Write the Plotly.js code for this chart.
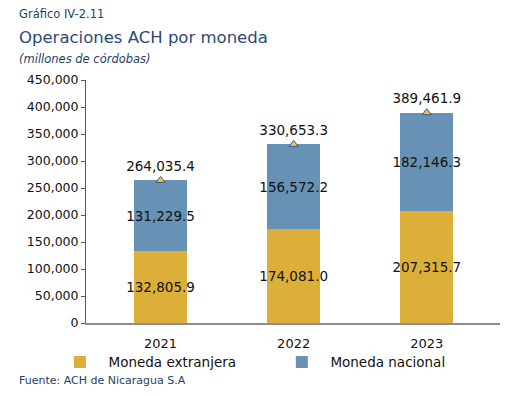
<!DOCTYPE html>
<html><head><meta charset="utf-8">
<script src="https://cdn.plot.ly/plotly-3.0.1.min.js"></script>
<style>body{margin:0;background:#fff}#c{width:512px;height:396px}</style>
</head><body><div id="c"></div>
<script>
const years = ['2021', '2022', '2023'];
const extranjera = [132805.9, 174081.0, 207315.7];
const nacional = [131229.5, 156572.2, 182146.3];
const total = [264035.4, 330653.3, 389461.9];
const yTicks = [0, 50000, 100000, 150000, 200000, 250000, 300000, 350000, 400000, 450000];

const fmt = v => v.toLocaleString('en-US', {minimumFractionDigits: 1, maximumFractionDigits: 1});
const lblFont = {family: 'DejaVu Sans', size: 13.5, color: '#111'};
const hdr = '#243F66';
const legFont = {family: 'DejaVu Sans', size: 13.5, color: '#111'};
const pad = '\u00a0\u00a0';

const traces = [
  {type: 'bar', name: pad + 'Moneda extranjera', x: years, y: extranjera, legend: 'legend',
   marker: {color: '#DCAF38'}, text: extranjera.map(fmt), textposition: 'inside',
   insidetextanchor: 'middle', textangle: 0, constraintext: 'none', textfont: lblFont,
   hoverinfo: 'skip'},
  {type: 'bar', name: pad + 'Moneda nacional', x: years, y: nacional, legend: 'legend2',
   marker: {color: '#6892B5'}, text: nacional.map(fmt), textposition: 'inside',
   insidetextanchor: 'middle', textangle: 0, constraintext: 'none', textfont: lblFont,
   hoverinfo: 'skip'},
  {type: 'scatter', mode: 'markers+text', x: years, y: total, showlegend: false,
   marker: {symbol: 'triangle-up', size: 8, color: '#E8C155', line: {color: '#3C5A7A', width: 1}},
   text: total.map(fmt), textposition: 'top center', textfont: lblFont, cliponaxis: false}
];

const layout = {
  width: 512, height: 396,
  margin: {l: 86, r: 12, t: 80, b: 73},
  paper_bgcolor: '#fff', plot_bgcolor: '#fff',
  barmode: 'stack', bargap: 0.6,
  showlegend: true,
  xaxis: {type: 'category', range: [-0.56, 2.55], showline: true, linecolor: '#8c8c8c', linewidth: 1.5,
    ticks: '', showgrid: false, zeroline: false, ticklabelstandoff: 8,
    tickfont: {family: 'DejaVu Sans', size: 13, color: '#111'}},
  yaxis: {range: [0, 450000], tickvals: yTicks, ticktext: yTicks.map(v => v.toLocaleString('en-US')),
    showline: true, linecolor: '#555', linewidth: 1, ticks: 'outside', ticklen: 4, tickcolor: '#555',
    showgrid: false, zeroline: false,
    tickfont: {family: 'DejaVu Sans', size: 12.5, color: '#111'}},
  legend: {orientation: 'h', x: -0.063, y: -0.098, xanchor: 'left', yanchor: 'top',
    font: legFont, itemwidth: 30, bgcolor: 'rgba(0,0,0,0)'},
  legend2: {orientation: 'h', x: 0.473, y: -0.098, xanchor: 'left', yanchor: 'top',
    font: legFont, itemwidth: 30, bgcolor: 'rgba(0,0,0,0)'},
  annotations: [
    {xref: 'paper', yref: 'paper', x: -0.167, y: 1.272, xanchor: 'left', yanchor: 'middle', showarrow: false,
     text: 'Gráfico IV-2.11', font: {family: 'DejaVu Sans', size: 11.5, color: hdr}},
    {xref: 'paper', yref: 'paper', x: -0.167, y: 1.174, xanchor: 'left', yanchor: 'middle', showarrow: false,
     text: 'Operaciones ACH por moneda', font: {family: 'DejaVu Sans', size: 16.5, color: '#2A4A78'}},
    {xref: 'paper', yref: 'paper', x: -0.167, y: 1.087, xanchor: 'left', yanchor: 'middle', showarrow: false,
     text: '<i>(millones de córdobas)</i>', font: {family: 'DejaVu Sans', size: 11.5, color: hdr}},
    {xref: 'paper', yref: 'paper', x: -0.167, y: -0.238, xanchor: 'left', yanchor: 'middle', showarrow: false,
     text: 'Fuente: ACH de Nicaragua S.A', font: {family: 'DejaVu Sans', size: 11, color: hdr}}
  ]
};

Plotly.newPlot('c', traces, layout, {displayModeBar: false, staticPlot: true});
</script></body></html>
